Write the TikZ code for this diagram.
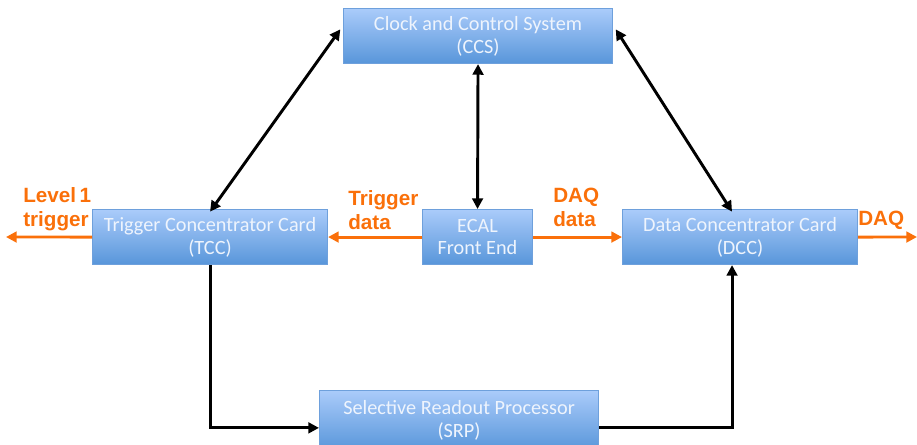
\documentclass[tikz,border=0pt]{standalone}
\usepackage{fontspec}
\setmainfont{Carlito}
\newfontfamily\labelfont{Liberation Sans}
\usetikzlibrary{arrows.meta}
\definecolor{boxtop}{RGB}{170,203,250}
\definecolor{boxbot}{RGB}{88,150,218}
\definecolor{boxline}{RGB}{110,160,220}
\definecolor{boxtext}{RGB}{238,244,253}
\definecolor{sigorange}{RGB}{250,112,10}
\tikzset{
  card/.style={draw=boxline, line width=0.8pt, top color=boxtop, bottom color=boxbot,
    text=boxtext, font=\fontsize{15.2}{17}\selectfont, align=center, inner sep=0pt, anchor=north west},
  ctrl/.style={line width=2.2pt, black, {Triangle[length=8pt,width=8pt]}-{Triangle[length=8pt,width=8pt]}},
  link/.style={line width=2.2pt, black, -{Triangle[length=8pt,width=8pt]}},
  sig/.style={line width=2.2pt, sigorange, -{Triangle[length=8pt,width=8pt]}},
  siglabel/.style={text=sigorange, font=\labelfont\bfseries\fontsize{15.5}{18}\selectfont, align=left, inner sep=0pt}
}
\begin{document}
\begin{tikzpicture}[x=0.75pt,y=-0.75pt]
\useasboundingbox (0,0) rectangle (917,444);
% boxes
\node[card, minimum width=269*0.75pt, minimum height=55*0.75pt] (ccs) at (343,8) {Clock and Control System\\(CCS)};
\node[card, minimum width=235*0.75pt, minimum height=55*0.75pt] (tcc) at (92,209) {Trigger Concentrator Card\\(TCC)};
\node[card, minimum width=110*0.75pt, minimum height=55*0.75pt] (ecal) at (422,209) {ECAL\\Front End};
\node[card, minimum width=235*0.75pt, minimum height=55*0.75pt] (dcc) at (622,209) {Data Concentrator Card\\(DCC)};
\node[card, minimum width=279*0.75pt, minimum height=60*0.75pt] (srp) at (319,390) {Selective Readout Processor\\(SRP)};
% end points of the outgoing signals
\coordinate (l1out) at (6,237);
\coordinate (daqout) at (917,237);
% control links
\draw[ctrl] ([yshift=-2pt]tcc.north) -- ([xshift=-2pt,yshift=-16pt]ccs.north west);
\draw[ctrl] ([xshift=2pt,yshift=-16pt]ccs.north east) -- ([xshift=-6pt,yshift=-2pt]dcc.north);
\draw[ctrl] (ccs.south) -- (ecal.north);
% data paths
\draw[sig] (ecal.west) -- (tcc.east);
\draw[sig] (ecal.east) -- (dcc.east -| dcc.west);
\draw[sig] (tcc.west) -- (l1out);
\draw[sig] (dcc.east) -- (daqout);
% selective readout loop
\draw[link] (tcc.south) |- ([yshift=-5.5pt]srp.west);
\draw[link] ([yshift=-5.5pt]srp.east) -| ([xshift=-6pt]dcc.south);
% labels
\node[siglabel, anchor=north west] (l1lab) at (23,187) {Level\,1\\trigger};
\node[siglabel, anchor=north west] (trglab) at (348,190) {Trigger\\data};
\node[siglabel, anchor=north west] (daqlab) at (553,188) {DAQ\\data};
\node[siglabel, anchor=north west] (daqlab2) at (858,211) {DAQ};
\end{tikzpicture}
\end{document}
